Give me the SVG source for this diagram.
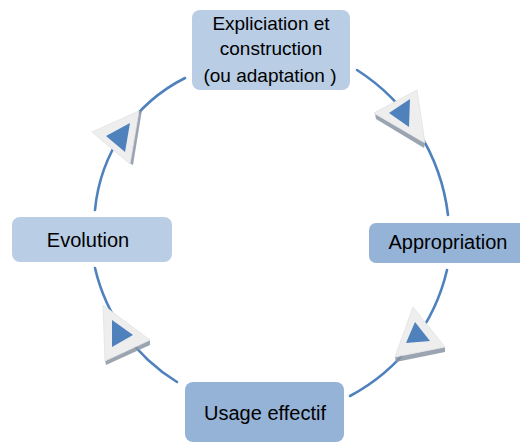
<svg xmlns="http://www.w3.org/2000/svg" width="520" height="442" viewBox="0 0 520 442">
  <style>
    .box-light { fill: #b9cde5; }
    .box-dark { fill: #95b3d7; }
    .label { font-family: "Liberation Sans", Arial, sans-serif; font-size: 19px; fill: #000; text-anchor: middle; }
    .label-lg { font-size: 20px; }
    .arc { fill: none; stroke: #4f81bd; stroke-width: 2.6; stroke-linecap: round; }
    .chev-outer { fill: #eeeeee; stroke: #e2e2e2; stroke-width: 0.8; }
    .chev-edge { fill: #8a94a3; opacity: 0.85; }
    .chev-inner { fill: #4f81bd; }
  </style>
  <rect width="520" height="442" fill="#ffffff"/>

  <!-- cycle arcs and direction markers -->
  <g id="connectors">
    <path class="arc" d="M357 70 A200 200 0 0 1 448 215"/>
    <path class="arc" d="M447 270 A192 192 0 0 1 350 396"/>
    <path class="arc" d="M177 382 A182 182 0 0 1 95 268"/>
    <path class="arc" d="M95 210 A165 165 0 0 1 185 78"/>

    <!-- upper right marker -->
    <g>
      <polygon class="chev-edge" points="375,114 425,143 424,148 376,119"/>
      <polygon class="chev-outer" points="374,113 417,90 425,143"/>
      <polygon class="chev-inner" points="389,113 410,99 409,127"/>
    </g>
    <!-- lower right marker -->
    <g>
      <polygon class="chev-edge" points="395,357 445,347 445,352 396,362"/>
      <polygon class="chev-outer" points="413,307 395,357 445,347"/>
      <polygon class="chev-inner" points="415,322 406,343 430,341"/>
    </g>
    <!-- lower left marker -->
    <g>
      <polygon class="chev-edge" points="105,360 150,340 150,345 106,365"/>
      <polygon class="chev-outer" points="103,305 105,361 150,340"/>
      <polygon class="chev-inner" points="112,320 112,347 133,335"/>
    </g>
    <!-- upper left marker -->
    <g>
      <polygon class="chev-edge" points="142,110 133,165 129,163 138,112"/>
      <polygon class="chev-outer" points="92,132 139,111 130,164"/>
      <polygon class="chev-inner" points="106,136 130,123 125,152"/>
    </g>
  </g>

  <g id="node-explicitation">
    <rect class="box-light" x="192" y="10" width="158" height="80" rx="8"/>
    <text class="label" x="271" y="30">Expliciation et</text>
    <text class="label" x="271" y="55">construction</text>
    <text class="label" x="270" y="82">(ou adaptation )</text>
  </g>

  <g id="node-appropriation">
    <rect class="box-dark" x="369" y="223" width="158" height="40" rx="7"/>
    <text class="label label-lg" x="448" y="249">Appropriation</text>
  </g>

  <g id="node-usage">
    <rect class="box-dark" x="185" y="382" width="159" height="60" rx="8"/>
    <text class="label label-lg" x="265" y="420">Usage effectif</text>
  </g>

  <g id="node-evolution">
    <rect class="box-light" x="12" y="217" width="160" height="45" rx="8"/>
    <text class="label label-lg" x="88" y="247">Evolution</text>
  </g>
</svg>
